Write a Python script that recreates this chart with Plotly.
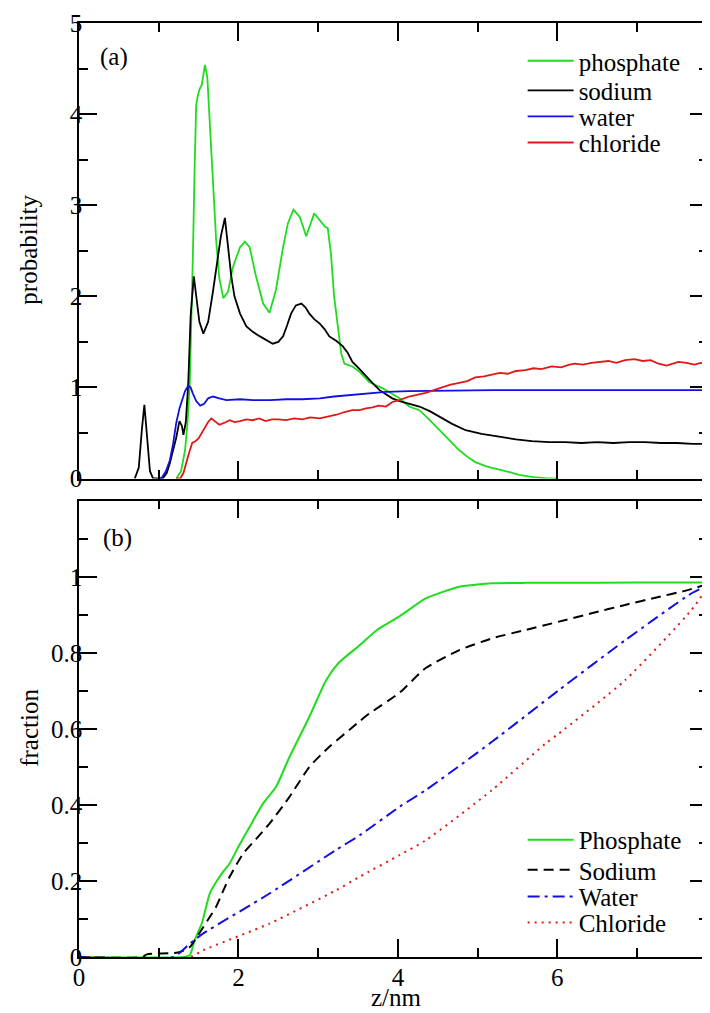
import plotly.graph_objects as go

# ---- panel (a): probability profiles ----
phos_x = [1.22, 1.28, 1.33, 1.36, 1.39, 1.41, 1.43, 1.45, 1.47, 1.49, 1.51, 1.54, 1.58, 1.61, 1.64, 1.68,
          1.72, 1.76, 1.81, 1.87, 1.93, 2.02, 2.08, 2.14, 2.22, 2.31, 2.39, 2.47, 2.56, 2.62, 2.69, 2.77,
          2.85, 2.95, 3.02, 3.09, 3.12, 3.16, 3.20, 3.25, 3.29, 3.33, 3.43, 3.52, 3.64, 3.81, 4.02, 4.14,
          4.27, 4.40, 4.52, 4.65, 4.77, 4.87, 4.97, 5.12, 5.27, 5.40, 5.52, 5.70, 5.85, 6.00]
phos_y = [0, 0.08, 0.31, 0.60, 1.05, 1.70, 2.50, 3.40, 4.10, 4.20, 4.27, 4.32, 4.54, 4.40, 3.90, 3.35,
          2.62, 2.20, 1.98, 2.05, 2.32, 2.54, 2.60, 2.54, 2.22, 1.92, 1.82, 2.07, 2.54, 2.80, 2.95, 2.87,
          2.66, 2.91, 2.84, 2.76, 2.75, 2.47, 2.00, 1.63, 1.37, 1.26, 1.23, 1.17, 1.06, 0.99, 0.88, 0.79,
          0.75, 0.64, 0.53, 0.42, 0.31, 0.24, 0.18, 0.13, 0.10, 0.07, 0.04, 0.015, 0.005, 0.0]

sod_x = [0.70, 0.75, 0.79, 0.82, 0.85, 0.89, 0.93, 1.05, 1.10, 1.14, 1.18, 1.22, 1.26, 1.29, 1.31, 1.34,
         1.37, 1.40, 1.44, 1.47, 1.51, 1.56, 1.62, 1.68, 1.73, 1.78, 1.83, 1.87, 1.91, 1.95, 2.02, 2.10,
         2.18, 2.27, 2.35, 2.43, 2.50, 2.56, 2.61, 2.66, 2.72, 2.79, 2.84, 2.89, 2.95, 3.02, 3.08, 3.14,
         3.23, 3.31, 3.37, 3.43, 3.52, 3.60, 3.68, 3.77, 3.85, 3.93, 4.02, 4.10, 4.18, 4.27, 4.40, 4.52,
         4.68, 4.85, 5.05, 5.27, 5.48, 5.68, 5.90, 6.10, 6.30, 6.50, 6.70, 6.90, 7.10, 7.30, 7.50, 7.70, 7.89]
sod_y = [0, 0.12, 0.55, 0.81, 0.50, 0.08, 0, 0, 0.06, 0.17, 0.31, 0.45, 0.63, 0.58, 0.48, 0.62,
         1.04, 1.78, 2.22, 2.00, 1.72, 1.59, 1.72, 2.05, 2.35, 2.66, 2.86, 2.54, 2.22, 2.00, 1.81, 1.67,
         1.61, 1.56, 1.52, 1.48, 1.50, 1.56, 1.68, 1.81, 1.90, 1.92, 1.88, 1.81, 1.75, 1.70, 1.64, 1.56,
         1.51, 1.45, 1.38, 1.28, 1.20, 1.12, 1.05, 0.97, 0.92, 0.88, 0.85, 0.83, 0.81, 0.79, 0.74, 0.68,
         0.60, 0.53, 0.49, 0.46, 0.43, 0.41, 0.40, 0.40, 0.39, 0.40, 0.39, 0.40, 0.40, 0.39, 0.39, 0.38, 0.38]

wat_x = [1.00, 1.04, 1.09, 1.14, 1.18, 1.22, 1.26, 1.29, 1.33, 1.37, 1.40, 1.43, 1.47, 1.52, 1.57, 1.62,
         1.68, 1.76, 1.85, 2.02, 2.18, 2.40, 2.60, 2.80, 3.02, 3.20, 3.43, 3.60, 3.85, 4.14, 4.50, 4.77,
         5.20, 5.80, 6.50, 7.20, 7.89]
wat_y = [0, 0.01, 0.08, 0.20, 0.38, 0.61, 0.77, 0.86, 0.96, 1.02, 1.00, 0.93, 0.85, 0.80, 0.82, 0.88,
         0.90, 0.88, 0.86, 0.87, 0.86, 0.86, 0.87, 0.87, 0.88, 0.90, 0.92, 0.935, 0.95, 0.96, 0.965, 0.965,
         0.97, 0.97, 0.97, 0.97, 0.97]

chl_x = [1.22, 1.27, 1.31, 1.35, 1.38, 1.42, 1.46, 1.50, 1.54, 1.58, 1.62, 1.66, 1.70, 1.76, 1.82, 1.89,
         1.95, 2.02, 2.10, 2.18, 2.26, 2.34, 2.42, 2.50, 2.60, 2.70, 2.80, 2.90, 3.02, 3.12, 3.23, 3.33,
         3.43, 3.52, 3.60, 3.68, 3.76, 3.85, 3.93, 4.02, 4.14, 4.25, 4.35, 4.45, 4.56, 4.66, 4.77, 4.87,
         4.97, 5.08, 5.18, 5.28, 5.38, 5.48, 5.60, 5.70, 5.80, 5.93, 6.05, 6.15, 6.22, 6.32, 6.43, 6.54,
         6.64, 6.74, 6.85, 6.97, 7.07, 7.17, 7.27, 7.37, 7.47, 7.52, 7.62, 7.72, 7.80, 7.89]
chl_y = [0, 0.0, 0.06, 0.17, 0.28, 0.39, 0.41, 0.44, 0.50, 0.57, 0.62, 0.66, 0.63, 0.59, 0.61, 0.64,
         0.62, 0.63, 0.65, 0.64, 0.66, 0.63, 0.65, 0.65, 0.64, 0.66, 0.65, 0.67, 0.66, 0.68, 0.70, 0.73,
         0.75, 0.75, 0.77, 0.78, 0.80, 0.79, 0.84, 0.86, 0.90, 0.92, 0.94, 0.97, 1.00, 1.03, 1.05, 1.07,
         1.11, 1.12, 1.14, 1.16, 1.15, 1.18, 1.19, 1.21, 1.20, 1.23, 1.22, 1.25, 1.26, 1.25, 1.27, 1.28,
         1.29, 1.27, 1.30, 1.31, 1.29, 1.30, 1.26, 1.24, 1.27, 1.28, 1.27, 1.25, 1.27, 1.25]

# ---- panel (b): cumulative fractions ----
phos_c_x = [0, 1.31, 1.39, 1.45, 1.54, 1.64, 1.72, 1.80, 1.89, 2.00, 2.14, 2.31, 2.47, 2.64, 2.89, 3.10,
            3.25, 3.52, 3.75, 4.02, 4.35, 4.60, 4.77, 5.00, 5.18, 5.60, 6.02, 7.00, 7.89]
phos_c_y = [0, 0, 0.005, 0.044, 0.088, 0.167, 0.197, 0.222, 0.246, 0.29, 0.342, 0.404, 0.447, 0.526, 0.632, 0.728,
            0.772, 0.82, 0.862, 0.896, 0.943, 0.963, 0.974, 0.980, 0.983, 0.984, 0.984, 0.985, 0.985]

sod_c_x = [0, 0.80, 0.85, 1.22, 1.30, 1.39, 1.47, 1.56, 1.64, 1.72, 1.80, 1.89, 2.06, 2.22, 2.39, 2.64,
           2.89, 3.14, 3.39, 3.52, 3.64, 4.02, 4.35, 4.77, 5.18, 5.60, 6.02, 6.43, 6.85, 7.27, 7.60, 7.89]
sod_c_y = [0, 0, 0.007, 0.011, 0.016, 0.026, 0.05, 0.079, 0.105, 0.132, 0.17, 0.211, 0.272, 0.31, 0.351, 0.421,
           0.5, 0.553, 0.597, 0.62, 0.64, 0.695, 0.76, 0.807, 0.838, 0.86, 0.882, 0.904, 0.926, 0.947, 0.963, 0.981]

wat_c_x = [0, 1.18, 1.39, 1.56, 2.39, 3.22, 3.52, 4.02, 4.35, 5.18, 6.02, 6.85, 7.68, 7.89]
wat_c_y = [0, 0, 0.035, 0.062, 0.167, 0.281, 0.32, 0.395, 0.439, 0.566, 0.702, 0.833, 0.956, 0.978]

chl_c_x = [0, 1.39, 1.56, 2.39, 3.22, 3.52, 4.02, 4.35, 5.18, 5.85, 6.02, 6.85, 7.68, 7.89]
chl_c_y = [0, 0, 0.018, 0.088, 0.175, 0.211, 0.268, 0.307, 0.439, 0.561, 0.588, 0.728, 0.912, 0.974]

GREEN = "#1fdc1f"
BLUE = "#1010e0"
RED = "#e01818"
FONT = "Liberation Serif, Times New Roman, DejaVu Serif, serif"

# legend rows (paper y) for the two panels
top_rows = [0.9593, 0.9275, 0.8997, 0.8718]
bot_rows = [0.1253, 0.0931, 0.0646, 0.0367]

fig = go.Figure()

top = [("phosphate", phos_x, phos_y, GREEN),
       ("sodium", sod_x, sod_y, "black"),
       ("water", wat_x, wat_y, BLUE),
       ("chloride", chl_x, chl_y, RED)]
for i, (name, x, y, c) in enumerate(top):
    lg = "legend" if i == 0 else "legend%d" % (i + 1)
    fig.add_trace(go.Scatter(x=x, y=y, name=name, mode="lines", xaxis="x2", yaxis="y2",
                             legend=lg, line=dict(color=c, width=1.8)))

bottom = [("Phosphate", phos_c_x, phos_c_y, GREEN, "solid"),
          ("Sodium", sod_c_x, sod_c_y, "black", "10px,6px"),
          ("Water", wat_c_x, wat_c_y, BLUE, "12px,5px,3px,5px"),
          ("Chloride", chl_c_x, chl_c_y, RED, "2px,5px")]
for i, (name, x, y, c, d) in enumerate(bottom):
    fig.add_trace(go.Scatter(x=x, y=y, name=name, mode="lines", xaxis="x", yaxis="y",
                             legend="legend%d" % (i + 5),
                             line=dict(color=c, width=2, dash=d, shape="spline", smoothing=0.6)))

ax = dict(showline=True, linecolor="black", linewidth=1.5, mirror="ticks", ticks="inside",
          ticklen=18, tickwidth=1.5, tickcolor="black", showgrid=False, zeroline=False,
          tickfont=dict(family=FONT, size=25, color="black"))
mnr = dict(ticks="inside", ticklen=9, tickwidth=1.5, tickcolor="black", tick0=0)

legends = {}
for i, ry in enumerate(top_rows + bot_rows):
    key = "legend" if i == 0 else "legend%d" % (i + 1)
    legends[key] = dict(x=0.7053, y=ry, xanchor="left", yanchor="middle", bgcolor="rgba(0,0,0,0)",
                        font=dict(family=FONT, size=25, color="black"), itemwidth=46)

fig.update_layout(
    width=702, height=1005,
    margin=dict(l=71, r=0, t=15, b=56),
    plot_bgcolor="white", paper_bgcolor="white",
    xaxis=dict(ax, domain=[0, 1], range=[0, 7.89], anchor="y", tickvals=[0, 2, 4, 6],
               ticklabelstandoff=-3, minor=dict(mnr, dtick=1)),
    xaxis2=dict(ax, domain=[0, 1], range=[0, 7.89], anchor="y2", tickvals=[0, 2, 4, 6], showticklabels=False,
                minor=dict(mnr, dtick=1)),
    yaxis=dict(ax, domain=[0, 0.4885], range=[0, 1.2], anchor="x", ticklabelstandoff=-10,
               tickvals=[0, 0.2, 0.4, 0.6, 0.8, 1.0], ticktext=["0", "0.2", "0.4", "0.6", "0.8", "1"],
               minor=dict(mnr, dtick=0.1)),
    yaxis2=dict(ax, domain=[0.5123, 1], range=[0, 5], anchor="x2", tickvals=[0, 1, 2, 3, 4, 5],
                ticklabelstandoff=-10, minor=dict(mnr, dtick=0.5)),
    showlegend=True,
    **legends,
)

ann = dict(xref="paper", yref="paper", showarrow=False, font=dict(family=FONT, size=25, color="black"))
fig.add_annotation(ann, text="(a)", x=0.0555, y=0.9636, xanchor="center", yanchor="middle")
fig.add_annotation(ann, text="(b)", x=0.062, y=0.4486, xanchor="center", yanchor="middle")
fig.add_annotation(ann, text="probability", x=-0.08, y=0.757, textangle=-90, xanchor="center", yanchor="middle")
fig.add_annotation(ann, text="fraction", x=-0.08, y=0.245, textangle=-90, xanchor="center", yanchor="middle")
fig.add_annotation(ann, text="z/nm", x=0.5055, y=-0.06, xanchor="center", yanchor="bottom")

fig.write_html("out.html")
